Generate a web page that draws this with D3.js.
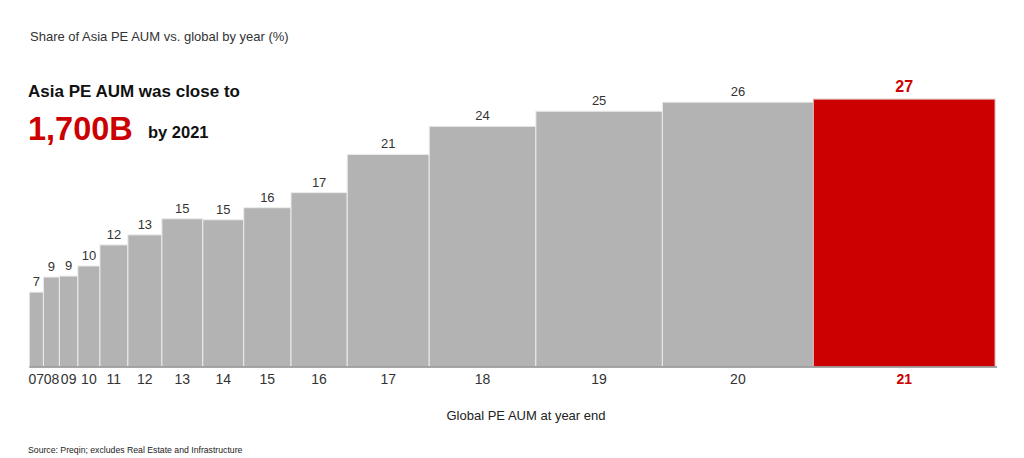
<!DOCTYPE html>
<html><head><meta charset="utf-8">
<script src="https://cdn.jsdelivr.net/npm/d3@7/dist/d3.min.js"></script>
<style>body{margin:0;background:#fff}svg{display:block;font-family:"Liberation Sans",Arial,sans-serif}</style>
</head><body><svg id="c" width="1024" height="458"></svg>
<script>
const years = ["07","08","09","10","11","12","13","14","15","16","17","18","19","20","21"];
const asiaShare = [7.4, 8.9, 9.0, 10.0, 12.1, 13.1, 14.7, 14.6, 15.8, 17.3, 21.1, 23.9, 25.4, 26.3, 26.6];
const globalAUM = [490, 555, 640, 765, 970, 1180, 1420, 1420, 1640, 1950, 2845, 3700, 4390, 5240, 6300];

const svg = d3.select("#c");
const total = d3.sum(globalAUM);
const x = d3.scaleLinear().domain([0, total]).range([29.3, 995]);
const y = d3.scaleLinear().domain([0, 30]).range([366.5, 65]);
let acc = 0;
const data = years.map((yr, i) => { const d = {yr, v: asiaShare[i], x0: acc, x1: acc + globalAUM[i], last: i === years.length - 1}; acc += globalAUM[i]; return d; });

svg.append("g").selectAll("rect").data(data).join("rect")
  .attr("x", d => x(d.x0)).attr("width", d => x(d.x1) - x(d.x0))
  .attr("y", d => y(d.v)).attr("height", d => y(0) - y(d.v))
  .attr("fill", d => d.last ? "#cc0000" : "#b3b3b3")
  .attr("stroke", d => d.last ? "#e0b0b0" : "#ececec").attr("stroke-width", 1);

svg.append("line").attr("x1", x(0)).attr("x2", x(total) + 2).attr("y1", y(0) + 0.5).attr("y2", y(0) + 0.5)
  .attr("stroke", "#888").attr("stroke-width", 1.5);

const fmt = d3.format(".0f");
svg.append("g").selectAll("text").data(data).join("text")
  .attr("x", d => x((d.x0 + d.x1) / 2)).attr("y", d => y(d.v) - (d.last ? 7 : 6))
  .attr("text-anchor", "middle")
  .attr("font-size", d => d.last ? 16 : 13).attr("font-weight", d => d.last ? "bold" : "normal")
  .attr("fill", d => d.last ? "#cc0000" : "#333").text(d => fmt(d.v));

svg.append("g").selectAll("text").data(data).join("text")
  .attr("x", d => x((d.x0 + d.x1) / 2)).attr("y", 384)
  .attr("text-anchor", "middle")
  .attr("font-size", 14).attr("font-weight", d => d.last ? "bold" : "normal")
  .attr("fill", d => d.last ? "#cc0000" : "#333").text(d => d.yr);

svg.append("text").attr("x", 526).attr("y", 420).attr("text-anchor", "middle")
  .attr("font-size", 13).attr("fill", "#222").text("Global PE AUM at year end");

svg.append("text").attr("x", 30).attr("y", 41).attr("font-size", 13).attr("fill", "#333")
  .text("Share of Asia PE AUM vs. global by year (%)");
svg.append("text").attr("x", 28).attr("y", 97).attr("font-size", 17).attr("font-weight", "bold").attr("fill", "#111")
  .text("Asia PE AUM was close to");
svg.append("text").attr("x", 28).attr("y", 140).attr("font-size", 32.5).attr("font-weight", "bold").attr("fill", "#cc0000")
  .text("1,700B");
svg.append("text").attr("x", 148).attr("y", 138).attr("font-size", 16.5).attr("font-weight", "bold").attr("fill", "#111")
  .text("by 2021");
svg.append("text").attr("x", 28).attr("y", 453).attr("font-size", 8.7).attr("fill", "#222")
  .text("Source: Preqin; excludes Real Estate and Infrastructure");
</script></body></html>
